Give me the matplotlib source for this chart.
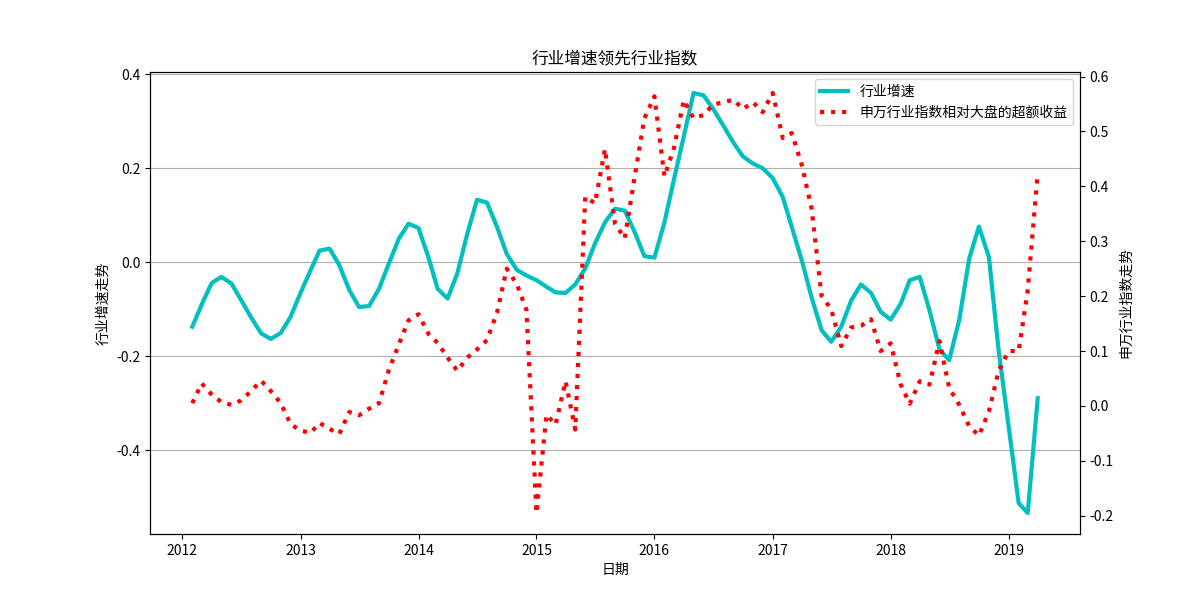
import matplotlib
matplotlib.use('Agg')
import matplotlib.pyplot as plt
import pandas as pd

plt.rcParams['font.family'] = ['Noto Sans CJK SC', 'DejaVu Sans']
plt.rcParams['axes.unicode_minus'] = False

# monthly dates, 2012-02 .. 2019-04
dates = pd.date_range('2012-02-01', '2019-04-01', freq='MS')

# 行业增速 (left axis)
growth = [
    -0.137, -0.090, -0.044, -0.031, -0.045, -0.080, -0.117, -0.151, -0.163, -0.150,
    -0.116, -0.065, -0.017, 0.025, 0.029, -0.006, -0.059, -0.095, -0.093, -0.056,
    -0.003, 0.050, 0.082, 0.073, 0.010, -0.056, -0.077, -0.024, 0.061, 0.133,
    0.127, 0.075, 0.018, -0.016, -0.028, -0.038, -0.052, -0.064, -0.065, -0.047,
    -0.013, 0.040, 0.085, 0.114, 0.110, 0.064, 0.013, 0.010, 0.085, 0.175,
    0.268, 0.360, 0.355, 0.326, 0.291, 0.255, 0.225, 0.210, 0.200, 0.179,
    0.139, 0.075, 0.004, -0.074, -0.144, -0.169, -0.137, -0.081, -0.047, -0.065,
    -0.105, -0.122, -0.088, -0.038, -0.031, -0.102, -0.185, -0.208, -0.123, 0.008,
    0.076, 0.011, -0.187, -0.349, -0.512, -0.533, -0.289,
]

# 申万行业指数相对大盘的超额收益 (right axis)
excess = [
    0.005, 0.041, 0.021, 0.007, 0.002, 0.010, 0.027, 0.046, 0.027, 0.005,
    -0.033, -0.045, -0.049, -0.031, -0.042, -0.051, -0.011, -0.017, -0.005, 0.005,
    0.065, 0.112, 0.156, 0.167, 0.131, 0.115, 0.088, 0.064, 0.088, 0.103,
    0.120, 0.170, 0.250, 0.222, 0.175, -0.195, -0.016, -0.034, 0.045, -0.043,
    0.381, 0.369, 0.468, 0.332, 0.305, 0.418, 0.524, 0.564, 0.418, 0.469,
    0.557, 0.524, 0.530, 0.549, 0.553, 0.558, 0.541, 0.553, 0.535, 0.570,
    0.488, 0.497, 0.439, 0.360, 0.201, 0.176, 0.109, 0.143, 0.146, 0.158,
    0.100, 0.114, 0.039, 0.004, 0.045, 0.039, 0.118, 0.033, 0.002, -0.037,
    -0.054, -0.010, 0.064, 0.100, 0.100, 0.210, 0.424,
]

fig, ax1 = plt.subplots(figsize=(12, 6), dpi=100)
l1, = ax1.plot(dates, growth, color='c', lw=3, label='行业增速')
ax1.set_ylabel('行业增速走势')
ax1.set_xlabel('日期')
ax1.grid(axis='y')

ax2 = ax1.twinx()
l2, = ax2.plot(dates, excess, color='r', lw=3, ls=':', label='申万行业指数相对大盘的超额收益')
ax2.set_ylabel('申万行业指数走势')

ax1.legend(handles=[l1, l2], loc='upper right')
ax1.set_title('行业增速领先行业指数')

fig.savefig('out.png')
